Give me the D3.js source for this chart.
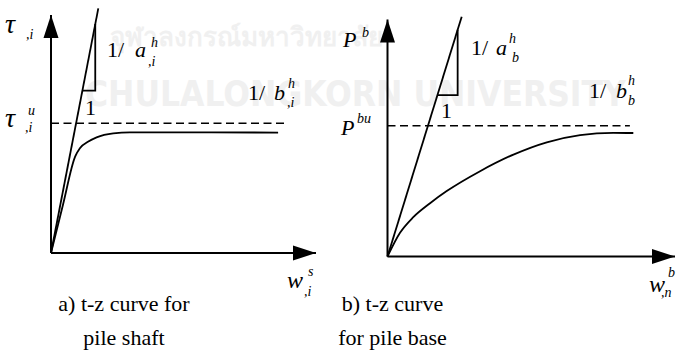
<!DOCTYPE html>
<html>
<head>
<meta charset="utf-8">
<script src="https://cdn.jsdelivr.net/npm/d3@7"></script>
</head>
<body style="margin:0">
<svg id="chart" width="682" height="356"></svg>
<script>
// ---- Data (normalised units: 0..100 along each axis) ----
// a) shaft t-z curve: displacement w and shear stress tau
const shaftW   = [0, 4.5, 9.1, 10.9, 14.1, 17.2, 23.5, 29.8, 85.7];
const shaftTau = [0, 20.2, 40.5, 44.0, 46.8, 48.6, 50.3, 50.7, 50.6];
const shaftUltimate = 54.5;          // tau_u level (dashed)
const shaftUltimateEnd = 88.3;       // dashed line extent along w
const shaftTangentW = [0, 17.85];    // initial stiffness 1/a
const shaftTangentT = [0, 102.8];
const shaftTriangle = { level: 68.2, runEnd: 16.7 };

// b) base t-z curve: displacement w and base load P
const baseW = [0, 4.35, 8.97, 14.8, 20.6, 32.2, 43.8, 55.4, 67.0, 78.5, 85.5];
const baseP = [0, 10.0, 16.6, 22.5, 27.6, 36.0, 43.0, 48.2, 51.2, 52.2, 52.1];
const baseUltimate = 55.2;
const baseUltimateEnd = 84.3;
const baseTangentW = [0, 25.8];
const baseTangentP = [0, 101.2];
const baseTriangle = { level: 68.1, runEnd: 24.4 };

const captions = [["a) t-z curve for", "pile shaft"], ["b) t-z curve", "for pile base"]];

const svg = d3.select("#chart");

// text helper (labels, captions)
function label(pieces) {
  pieces.forEach(p => {
    const t = svg.append("text").attr("x", p.x).attr("y", p.y)
      .attr("font-family", p.family || "serif")
      .attr("font-size", p.size);
    if (p.italic) t.attr("font-style", "italic");
    if (p.bold) t.attr("font-weight", "bold");
    if (p.fill) t.attr("fill", p.fill);
    if (p.anchor) t.attr("text-anchor", p.anchor);
    t.text(p.t);
  });
}

function drawPanel(cfg) {
  const x = d3.scaleLinear().domain([0, 100]).range(cfg.xRange);
  const y = d3.scaleLinear().domain([0, 100]).range(cfg.yRange);
  const g = svg.append("g");
  const line = d3.line().x(d => x(d[0])).y(d => y(d[1]));

  // axes with arrow heads
  g.append("path").datum([[0, 0], [100, 0]]).attr("d", line)
    .attr("stroke", "#000").attr("stroke-width", 2).attr("fill", "none");
  g.append("path").datum([[0, 0], [0, 100]]).attr("d", line)
    .attr("stroke", "#000").attr("stroke-width", 2).attr("fill", "none");

  const ah = 23, aw = 7.5;
  g.append("path")
    .attr("d", `M${x(100)},${y(0)} L${x(100) - ah},${y(0) - aw} L${x(100) - ah},${y(0) + aw} Z`)
    .attr("fill", "#000");
  g.append("path")
    .attr("d", `M${x(0)},${y(100)} L${x(0) - aw},${y(100) + ah} L${x(0) + aw},${y(100) + ah} Z`)
    .attr("fill", "#000");

  // ultimate level
  g.append("path").datum([[0, cfg.ult], [cfg.ultEnd, cfg.ult]]).attr("d", line)
    .attr("fill", "none").attr("stroke", "#000").attr("stroke-width", 1.6)
    .attr("stroke-dasharray", "8,4.5");

  // initial stiffness line
  g.append("path").datum(d3.zip(cfg.tanW, cfg.tanV))
    .attr("d", line).attr("fill", "none").attr("stroke", "#000").attr("stroke-width", 1.8);

  // slope triangle
  const slope = cfg.tanV[1] / cfg.tanW[1];
  const ax0 = cfg.tri.level / slope;
  const tri = [[ax0, cfg.tri.level], [cfg.tri.runEnd, cfg.tri.level], [cfg.tri.runEnd, cfg.tri.runEnd * slope]];
  g.append("path").datum(tri).attr("d", line)
    .attr("fill", "none").attr("stroke", "#000").attr("stroke-width", 1.8);

  // hyperbolic curve
  const curve = d3.line().x(d => x(d[0])).y(d => y(d[1])).curve(d3.curveMonotoneX);
  g.append("path").datum(d3.zip(cfg.curveW, cfg.curveV))
    .attr("d", curve).attr("fill", "none").attr("stroke", "#000").attr("stroke-width", 1.8);
}

// faint watermark behind the figure
label([
  { t: "จุฬาลงกรณ์มหาวิทยาลัย", x: 110, y: 46, size: 26, bold: true, family: "Noto Sans", fill: "#f0f0f0" },
  { t: "CHULALONGKORN UNIVERSITY", x: 85, y: 106, size: 35, bold: true, family: "DejaVu Sans Condensed", fill: "#f0f0f0" }
]);

drawPanel({
  xRange: [51, 316], yRange: [253, 15],
  curveW: shaftW, curveV: shaftTau, ult: shaftUltimate, ultEnd: shaftUltimateEnd,
  tanW: shaftTangentW, tanV: shaftTangentT, tri: shaftTriangle
});
drawPanel({
  xRange: [387.5, 675], yRange: [256.5, 19.5],
  curveW: baseW, curveV: baseP, ult: baseUltimate, ultEnd: baseUltimateEnd,
  tanW: baseTangentW, tanV: baseTangentP, tri: baseTriangle
});

label([
  { t: captions[0][0], x: 124, y: 311, size: 22, anchor: "middle" },
  { t: captions[0][1], x: 124, y: 345, size: 22, anchor: "middle" },
  { t: captions[1][0], x: 392.5, y: 311, size: 22, anchor: "middle" },
  { t: captions[1][1], x: 392.5, y: 345, size: 22, anchor: "middle" },

  { t: "τ", x: 5, y: 33, size: 28, italic: true },
  { t: ",i", x: 26, y: 39, size: 14, italic: true },
  { t: "τ", x: 5, y: 127, size: 28, italic: true },
  { t: "u", x: 28, y: 115, size: 14, italic: true },
  { t: ",i", x: 25, y: 132, size: 14, italic: true },
  { t: "1/", x: 107, y: 57, size: 22 },
  { t: "a", x: 135, y: 57, size: 22, italic: true },
  { t: "h", x: 151, y: 47, size: 14, italic: true },
  { t: ",i", x: 148, y: 66, size: 14, italic: true },
  { t: "1/", x: 248, y: 100, size: 22 },
  { t: "b", x: 274, y: 100, size: 22, italic: true },
  { t: "h", x: 288, y: 88, size: 14, italic: true },
  { t: ",i", x: 287, y: 107, size: 14, italic: true },
  { t: "1", x: 85, y: 115, size: 22 },
  { t: "w", x: 287, y: 288, size: 24, italic: true },
  { t: "s", x: 308, y: 276, size: 14, italic: true },
  { t: ",i", x: 304, y: 296, size: 14, italic: true },

  { t: "P", x: 343, y: 47, size: 22, italic: true },
  { t: "b", x: 362, y: 37, size: 14, italic: true },
  { t: "P", x: 341, y: 135, size: 22, italic: true },
  { t: "bu", x: 357, y: 123, size: 14, italic: true },
  { t: "1/", x: 471, y: 55, size: 22 },
  { t: "a", x: 496, y: 55, size: 22, italic: true },
  { t: "h", x: 509, y: 43, size: 14, italic: true },
  { t: "b", x: 512, y: 62, size: 14, italic: true },
  { t: "1/", x: 589, y: 98, size: 22 },
  { t: "b", x: 616, y: 98, size: 22, italic: true },
  { t: "h", x: 628, y: 85, size: 14, italic: true },
  { t: "b", x: 628, y: 105, size: 14, italic: true },
  { t: "1", x: 441, y: 118, size: 22 },
  { t: "w", x: 649, y: 292, size: 24, italic: true },
  { t: "b", x: 668, y: 277, size: 14, italic: true },
  { t: ",n", x: 661, y: 297, size: 14, italic: true }
]);
</script>
</body>
</html>
